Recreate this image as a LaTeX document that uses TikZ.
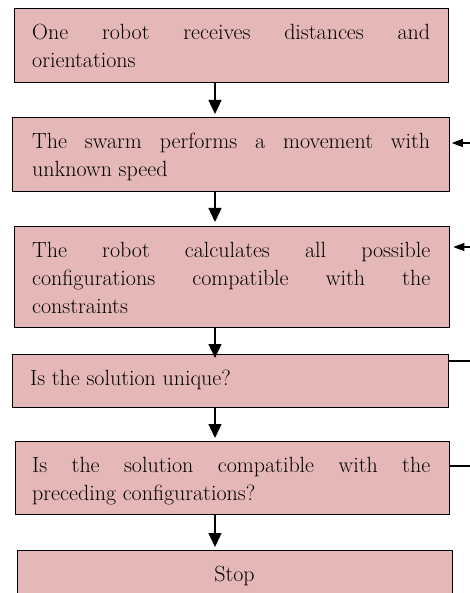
\documentclass[tikz,border=0pt]{standalone}
\usetikzlibrary{arrows.meta}
\definecolor{boxpink}{HTML}{E5B8B7}
\begin{document}
\begin{tikzpicture}[x=1pt,y=-1pt,
  box/.style={draw=black, line width=1.3pt, fill=boxpink, rectangle, inner sep=0pt, anchor=north west},
  txt/.style={anchor=north west, inner sep=0pt, text width=398pt, align=justify, font=\fontsize{22}{28.3}\selectfont},
  varr/.style={line width=1.3pt, -{Triangle[length=14pt,width=13pt]}},
  harr/.style={line width=1.1pt, -{Triangle[length=11pt,width=8pt]}},
  hline/.style={line width=1.1pt}]
\useasboundingbox (0,0) rectangle (470,593);
\clip (0,0) rectangle (470,593);

\node[box, minimum width=434pt, minimum height=74pt] (b1) at (14,8) {};
\node[box, minimum width=437pt, minimum height=74pt] (b2) at (12,117) {};
\node[box, minimum width=435pt, minimum height=101pt] (b3) at (14,226) {};
\node[box, minimum width=436pt, minimum height=53pt] (b4) at (12,354) {};
\node[box, minimum width=434pt, minimum height=73pt] (b5) at (15,441) {};
\node[box, minimum width=435pt, minimum height=80pt] (b6) at (17,550) {};

\node[txt] (t1) at (32,23.7) {One robot receives distances and\linebreak orientations};
\node[txt] (t2) at (32,132.7) {The swarm performs a movement with\linebreak unknown speed};
\node[txt] (t3) at (32,241.7) {The robot calculates all possible\linebreak configurations compatible with the\linebreak constraints};
\node[txt] (t4) at (30,369.7) {Is the solution unique?};
\node[txt] (t5) at (32,456.7) {Is the solution compatible with the\linebreak preceding configurations?};
\node[anchor=north, inner sep=0pt, font=\fontsize{22}{28.3}\selectfont] (t6) at (234.5,565.5) {Stop};

\coordinate (ax) at (215,0);
\draw[varr, shorten >=3pt] (b1.south -| ax) -- (b2.north -| ax);
\draw[varr, shorten >=4pt] (b2.south -| ax) -- (b3.north -| ax);
\draw[varr, shorten >=-4pt] (b3.south -| ax) -- (b4.north -| ax);
\draw[varr, shorten >=3pt] (b4.south -| ax) -- (b5.north -| ax);
\draw[varr, shorten >=3pt] (b5.south -| ax) -- (b6.north -| ax);

\coordinate (r2) at (470,143);
\coordinate (r3) at (470,247);
\coordinate (r4) at (470,361);
\coordinate (r5) at (470,466);
\draw[harr, shorten >=1.5pt] (r2) -- (r2 -| b2.east);
\draw[harr, shorten >=3pt] (r3) -- (r3 -| b3.east);
\draw[hline] (r4 -| b4.east) -- (r4);
\draw[hline] (r5 -| b5.east) -- (r5);
\end{tikzpicture}
\end{document}
